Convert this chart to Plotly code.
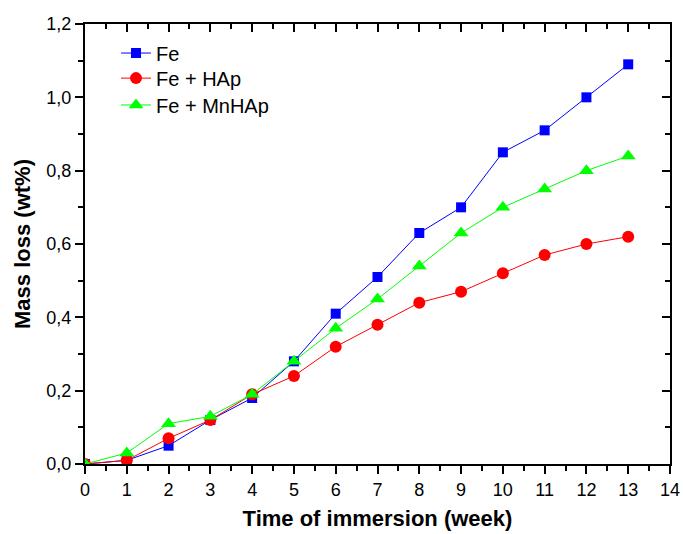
import plotly.graph_objects as go

weeks = list(range(14))
fe = [0.0, 0.01, 0.05, 0.12, 0.18, 0.28, 0.41, 0.51, 0.63, 0.70, 0.85, 0.91, 1.00, 1.09]
fe_hap = [0.0, 0.01, 0.07, 0.12, 0.19, 0.24, 0.32, 0.38, 0.44, 0.47, 0.52, 0.57, 0.60, 0.62]
fe_mnhap = [0.0, 0.03, 0.11, 0.13, 0.19, 0.28, 0.37, 0.45, 0.54, 0.63, 0.70, 0.75, 0.80, 0.84]

font = "Liberation Sans, Arial, sans-serif"

fig = go.Figure()
fig.add_trace(go.Scatter(x=weeks, y=fe, name="Fe", mode="lines+markers", legend="legend",
                         line=dict(color="#0000ff", width=1),
                         marker=dict(symbol="square", size=10, color="#0000ff")))
fig.add_trace(go.Scatter(x=weeks, y=fe_hap, name="Fe + HAp", mode="lines+markers", legend="legend2",
                         line=dict(color="#ff0000", width=1),
                         marker=dict(symbol="circle", size=12, color="#ff0000")))
fig.add_trace(go.Scatter(x=weeks, y=fe_mnhap, name="Fe + MnHAp", mode="lines+markers", legend="legend3",
                         line=dict(color="#00ff00", width=1),
                         marker=dict(symbol="triangle-up", size=13, color="#00ff00")))

common = dict(showgrid=False, zeroline=False, showline=True, linecolor="black",
              linewidth=2, tickcolor="black", tickwidth=1.5, automargin=False)

def leg(y):
    return dict(x=0.053, y=y, xanchor="left", yanchor="middle",
                bgcolor="rgba(0,0,0,0)", font=dict(size=20, family=font),
                itemsizing="trace")

fig.update_layout(
    width=683, height=534,
    margin=dict(l=85, r=13, t=24, b=70),
    paper_bgcolor="white", plot_bgcolor="white",
    separators=", ",
    font=dict(family=font, size=18, color="black"),
    showlegend=True,
    legend=leg(0.934),
    legend2=leg(0.877),
    legend3=leg(0.816),
    xaxis=dict(range=[0, 14], dtick=1, ticks="outside", ticklen=8,
               minor=dict(dtick=0.5, ticks="outside", ticklen=5, tickcolor="black", tickwidth=1.5),
               title=dict(text="<b>Time of immersion (week)</b>", font=dict(size=22, family=font), standoff=12),
               tickfont=dict(size=18, family=font), **common),
    yaxis=dict(range=[0, 1.2], dtick=0.2, tickformat=".1f", ticks="outside", ticklen=8,
               minor=dict(dtick=0.1, ticks="outside", ticklen=5, tickcolor="black", tickwidth=1.5),
               title=dict(text="<b>Mass loss (wt%)</b>", font=dict(size=22, family=font), standoff=10),
               tickfont=dict(size=18, family=font), **common),
    xaxis2=dict(range=[0, 14], dtick=1, overlaying="x", side="top", ticks="inside", ticklen=8,
                showticklabels=False,
                minor=dict(dtick=0.5, ticks="inside", ticklen=5, tickcolor="black", tickwidth=1.5),
                **common),
    yaxis2=dict(range=[0, 1.2], dtick=0.2, overlaying="y", side="right", ticks="inside", ticklen=8,
                showticklabels=False,
                minor=dict(dtick=0.1, ticks="inside", ticklen=5, tickcolor="black", tickwidth=1.5),
                **common),
)
fig.add_trace(go.Scatter(x=[None], y=[None], xaxis="x2", yaxis="y2", showlegend=False, hoverinfo="skip"))

fig.write_html("out.html")
